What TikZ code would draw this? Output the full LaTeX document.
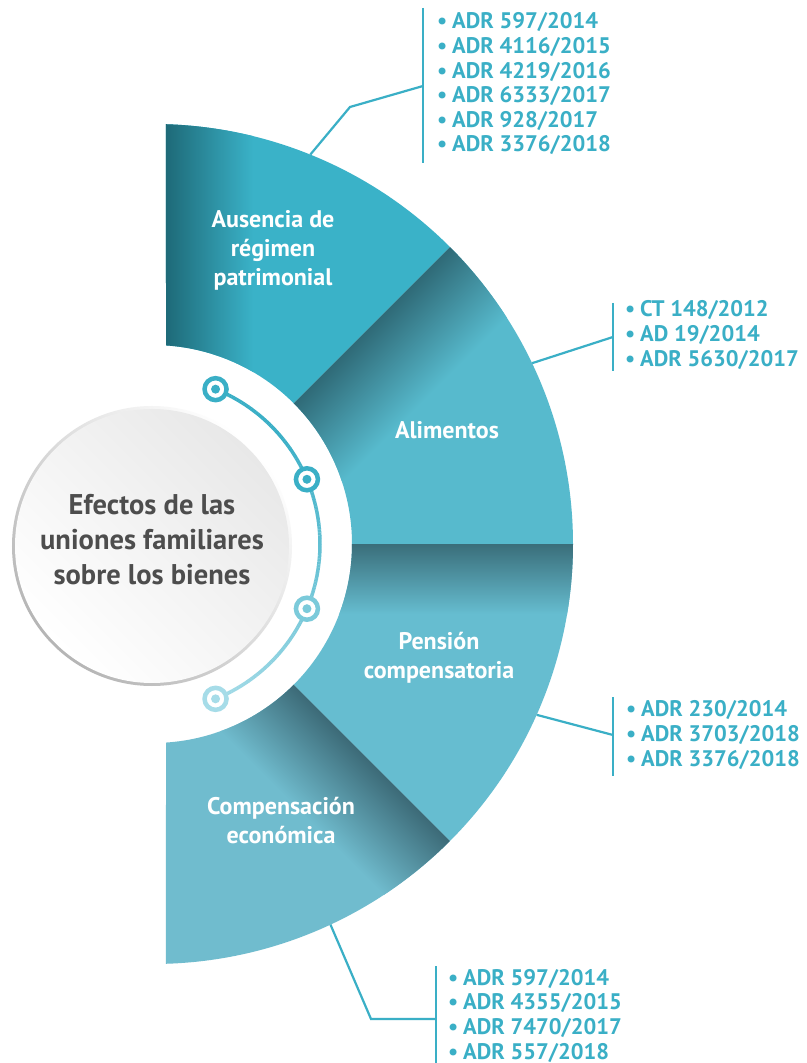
\documentclass[tikz,border=0pt]{standalone}
\usepackage{fontspec}
\setmainfont{PT Sans}

\definecolor{refteal}{HTML}{3AAFC6}
\definecolor{ausbase}{HTML}{3AB2C8}
\definecolor{ausdark}{HTML}{1E6A78}
\definecolor{alibase}{HTML}{57BACD}
\definecolor{alidark}{HTML}{2F6A77}
\definecolor{penbase}{HTML}{66BDD0}
\definecolor{pendark}{HTML}{3A6E7A}
\definecolor{combase}{HTML}{70BCCE}
\definecolor{comdark}{HTML}{3C6A77}
\definecolor{hubtext}{HTML}{4D4D4D}
\definecolor{hubtop}{HTML}{E8E8E8}
\definecolor{hubrim}{HTML}{B5B5B5}
\definecolor{arctop}{HTML}{3AAFC6}
\definecolor{arcbot}{HTML}{A6DCE8}

\newcommand{\refbul}{\makebox[16pt][l]{\hspace{1pt}•}}

\begin{document}
\begin{tikzpicture}[x=1pt, y=1pt]
    \tikzset{
        ring sector/.style n args={4}{insert path={(#1:420) arc[start angle=#1, end angle=#2, radius=420] -- (#4:199) arc[start angle=#4, end angle=#3, radius=199] -- cycle}},
        seclabel/.style={text=white, align=center, font=\fontsize{24}{29}\selectfont\bfseries},
        refitem/.style={anchor=base west, inner sep=0pt, text=refteal, font=\fontsize{22.5}{25}\selectfont\bfseries},
        refline/.style={draw=refteal, line width=2.2pt},
        dot/.style={circle, draw=#1, fill=white, line width=4.5pt, minimum size=22pt, inner sep=0pt,
            path picture={\fill[#1] (path picture bounding box.center) circle (4.5);}},
        hub/.style={circle, minimum size=274pt, inner sep=0pt, top color=hubtop, bottom color=white, shading angle=-45}
    }
    \path[use as bounding box, fill=white] (-153,544) rectangle (653,-519);

    % the four sectors, each shadowed along its upper edge
    \begin{scope}
        \clip[ring sector={88.23}{45}{86.25}{45}];
        \fill[ausbase] (0,0) rectangle (430,430);
        \shade[left color=ausdark, right color=ausbase] (13,0) rectangle (100,430);
    \end{scope}
    \begin{scope}
        \clip[ring sector={45}{0}{45}{0}];
        \fill[alibase] (0,0) rectangle (430,430);
        \begin{scope}[transform canvas={rotate=45}]
            \shade[top color=alidark, bottom color=alibase] (0,0) rectangle (440,-90);
        \end{scope}
    \end{scope}
    \begin{scope}
        \clip[ring sector={0}{-45}{0}{-45}];
        \fill[penbase] (0,0) rectangle (430,-430);
        \shade[top color=pendark, bottom color=penbase] (0,0) rectangle (440,-70);
    \end{scope}
    \begin{scope}
        \clip[ring sector={-45}{-88.23}{-45}{-86.25}];
        \fill[combase] (0,0) rectangle (430,-430);
        \begin{scope}[transform canvas={rotate=-45}]
            \shade[top color=comdark, bottom color=combase] (0,0) rectangle (440,-85);
        \end{scope}
    \end{scope}

    \node[seclabel] (aus) at (120,294)  {Ausencia de\\régimen\\patrimonial};
    \node[seclabel] (ali) at (294,114)  {Alimentos};
    \node[seclabel] (pen) at (286,-114) {Pensión\\compensatoria};
    \node[seclabel] (com) at (128,-277) {Compensación\\económica};

    % centre disc
    \shade[top color=white, bottom color=hubrim, shading angle=-45] (-1,-2) circle (140);
    \node[hub] (hub) at (-1,-2) {};
    \node[text=hubtext, align=center, font=\fontsize{28.5}{35}\selectfont\bfseries] (hubtitle) at (-1,4) {Efectos de las\\uniones familiares\\sobre los bienes};

    % arc with its four dots
    \foreach \a in {68,67,...,-67} {
        \pgfmathsetmacro\p{100-min(100,max(0,(40-\a)/1.08))}
        \draw[line width=3.5pt, color=arctop!\p!arcbot] (\a:167) arc[start angle=\a, end angle=\a-1.05, radius=167];
    }
    \node[dot=arctop] (d1) at (68:167) {};
    \node[dot=arctop] (d2) at (22.8:167) {};
    \node[dot=arctop!40!arcbot] (d3) at (-22.8:167) {};
    \node[dot=arcbot] (d4) at (-68:167) {};

    % reference lists
    \foreach \r [count=\i] in {ADR 597/2014, ADR 4116/2015, ADR 4219/2016, ADR 6333/2017, ADR 928/2017, ADR 3376/2018}
        \node[refitem] (ausref\i) at (283,{515-24.6*(\i-1)}) {\refbul\r};
    \foreach \r [count=\i] in {CT 148/2012, AD 19/2014, ADR 5630/2017}
        \node[refitem] (aliref\i) at (471,{227-25*(\i-1)}) {\refbul\r};
    \foreach \r [count=\i] in {ADR 230/2014, ADR 3703/2018, ADR 3376/2018}
        \node[refitem] (penref\i) at (472,{-172-25*(\i-1)}) {\refbul\r};
    \foreach \r [count=\i] in {ADR 597/2014, ADR 4355/2015, ADR 7470/2017, ADR 557/2018}
        \node[refitem] (comref\i) at (294,{-441-24.7*(\i-1)}) {\refbul\r};

    \coordinate (ausbartop) at (270,536);
    \coordinate (ausbarbot) at (270,381);
    \coordinate (ausedge) at (68:420);
    \coordinate (ausbend) at (197,437);
    \coordinate (ausjoin) at (270,458);
    \coordinate (alibartop) at (460,241);
    \coordinate (alibarbot) at (460,173);
    \coordinate (aliedge) at (25.5:420);
    \coordinate (alijoin) at (460,207);
    \coordinate (penbartop) at (460,-153);
    \coordinate (penbarbot) at (460,-232);
    \coordinate (penedge) at (-24:420);
    \coordinate (penjoin) at (460,-191);
    \coordinate (combartop) at (283,-422);
    \coordinate (combarbot) at (283,-519);
    \coordinate (comedge) at (-65:420);
    \coordinate (combend) at (218,-475);
    \coordinate (comjoin) at (283,-475);

    \draw[refline] (ausbartop) -- (ausbarbot);
    \draw[refline] (ausedge) -- (ausbend) -- (ausjoin);
    \draw[refline] (alibartop) -- (alibarbot);
    \draw[refline] (aliedge) -- (alijoin);
    \draw[refline] (penbartop) -- (penbarbot);
    \draw[refline] (penedge) -- (penjoin);
    \draw[refline] (combartop) -- (combarbot);
    \draw[refline] (comedge) -- (combend) -- (comjoin);
\end{tikzpicture}
\end{document}
